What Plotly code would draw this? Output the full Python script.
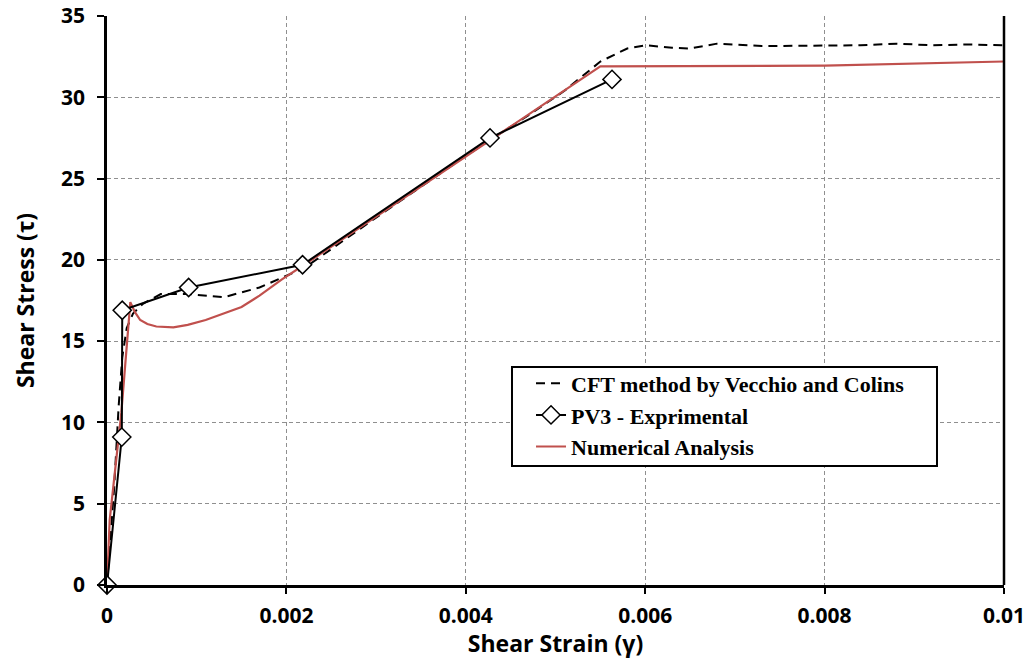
import plotly.graph_objects as go

# Experimental PV3
exp_x = [0, 0.000165, 0.00017, 0.00091, 0.00218, 0.00427, 0.00563]
exp_y = [0, 9.1, 16.9, 18.3, 19.7, 27.5, 31.1]

# CFT method by Vecchio and Collins (dashed)
cft_x = [0, 0.00008, 0.00013, 0.00017, 0.00022, 0.00029, 0.0004, 0.0006, 0.0009, 0.0013,
         0.0017, 0.0022, 0.0030, 0.0040, 0.0047, 0.0051, 0.0055, 0.0058, 0.0060,
         0.0063, 0.0065, 0.0068, 0.0073, 0.0079, 0.0084, 0.0088, 0.0092, 0.0096, 0.0100]
cft_y = [0, 6.0, 11.0, 14.0, 15.8, 16.7, 17.3, 17.9, 17.9, 17.7,
         18.3, 19.5, 22.6, 26.4, 28.9, 30.4, 32.2, 33.0, 33.2,
         33.05, 33.0, 33.3, 33.15, 33.2, 33.2, 33.3, 33.2, 33.25, 33.2]

# Numerical analysis (red)
num_x = [0, 0.00003, 0.00016, 0.00026, 0.00031, 0.00037, 0.00045, 0.00055, 0.00074, 0.0009,
         0.0011, 0.0013, 0.0015, 0.0017, 0.00195, 0.0022, 0.0055, 0.0080, 0.0100]
num_y = [0, 4.0, 10.6, 17.4, 16.8, 16.3, 16.05, 15.9, 15.85, 16.0,
         16.3, 16.7, 17.1, 17.8, 18.8, 19.7, 31.9, 31.95, 32.2]

x_ticks = [0, 0.002, 0.004, 0.006, 0.008, 0.01]
x_tick_labels = ["0", "0.002", "0.004", "0.006", "0.008", "0.01"]
y_ticks = [0, 5, 10, 15, 20, 25, 30, 35]

fig = go.Figure()
fig.add_trace(go.Scatter(x=cft_x, y=cft_y, mode="lines", name="CFT method by Vecchio and Colins",
                         line=dict(color="black", width=2, dash="9px,6px"), legendrank=1))
fig.add_trace(go.Scatter(x=num_x, y=num_y, mode="lines", name="Numerical Analysis",
                         line=dict(color="#C0504D", width=2.2), legendrank=3))
fig.add_trace(go.Scatter(x=exp_x, y=exp_y, mode="lines+markers", name="PV3 - Exprimental",
                         line=dict(color="black", width=2), cliponaxis=False, legendrank=2,
                         marker=dict(symbol="diamond", size=14, color="white",
                                     line=dict(color="black", width=1.5))))

# right frame line
fig.add_shape(type="line", xref="paper", yref="paper", x0=1, x1=1, y0=0, y1=1,
              line=dict(color="black", width=2.5))
# legend frame
fig.add_shape(type="rect", xref="paper", yref="paper", layer="above",
              x0=0.4515, x1=0.9253, y0=0.2091, y1=0.3831,
              line=dict(color="black", width=2), fillcolor="white")

fig.update_layout(
    width=1025, height=659,
    margin=dict(l=107, r=21, t=16, b=74, autoexpand=False),
    plot_bgcolor="white", paper_bgcolor="white",
    showlegend=True,
    hovermode=False,
    legend=dict(x=0.4727, y=0.391, xanchor="left", yanchor="top",
                bgcolor="rgba(0,0,0,0)", borderwidth=0, traceorder="normal",
                font=dict(family="Liberation Serif", size=22, color="black", weight="bold"),
                tracegroupgap=0, itemwidth=30),
    xaxis=dict(range=[0, 0.01], tickvals=x_ticks, ticktext=x_tick_labels,
               showline=True, linecolor="black", linewidth=2.5,
               ticks="outside", ticklen=6, tickcolor="black", tickwidth=1.5,
               showgrid=True, gridcolor="#8f8f8f", griddash="4px,3px", gridwidth=1,
               zeroline=False, automargin=False, ticklabeloverflow="allow",
               ticklabelstandoff=4,
               tickfont=dict(family="Open Sans", size=21, color="black", weight="bold"),
               title=dict(text="Shear Strain (γ)", standoff=4,
                          font=dict(family="Open Sans", size=23, color="black", weight="bold"))),
    yaxis=dict(range=[0, 35], tickvals=y_ticks,
               showline=True, linecolor="black", linewidth=2.5,
               ticks="outside", ticklen=7, tickcolor="black", tickwidth=1.5,
               showgrid=True, gridcolor="#8f8f8f", griddash="4px,3px", gridwidth=1,
               zeroline=False, automargin=False, ticklabeloverflow="allow",
               ticklabelstandoff=8,
               tickfont=dict(family="Open Sans", size=21, color="black", weight="bold"),
               title=dict(text="Shear Stress (τ)", standoff=20,
                          font=dict(family="Open Sans", size=23, color="black", weight="bold"))),
)

fig.write_html("out.html", config={"displayModeBar": False},
               post_script="document.body.style.margin='0';")
